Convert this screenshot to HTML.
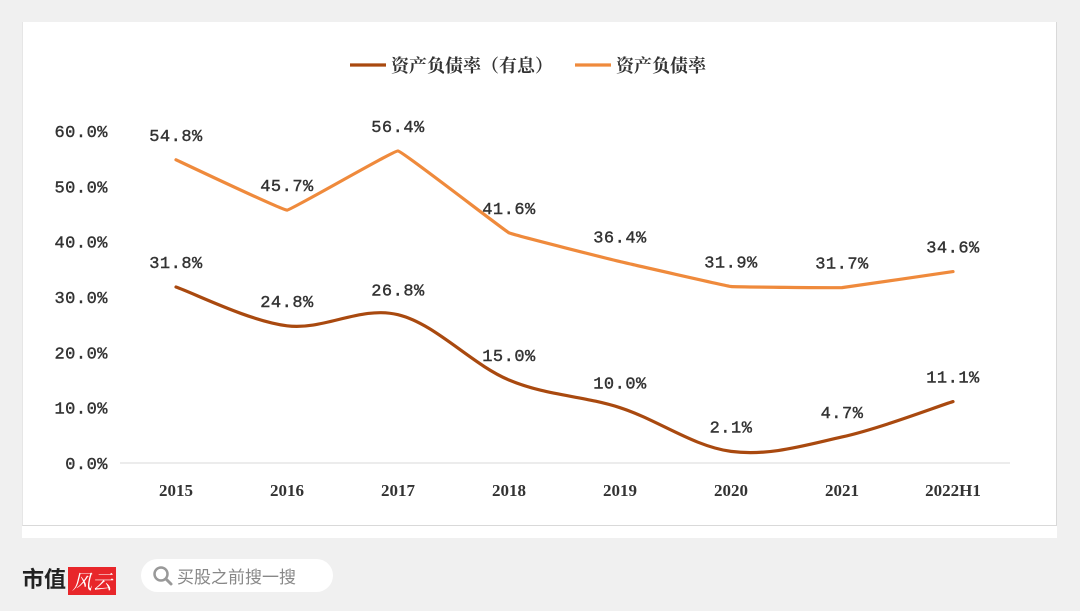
<!DOCTYPE html>
<html><head><meta charset="utf-8"><style>
body{margin:0;width:1080px;height:611px;background:#f0f0f0;overflow:hidden;font-family:"Liberation Serif","Noto Serif CJK SC",serif}
#card{position:absolute;left:22px;top:22px;width:1035px;height:516px;background:#fff}
#frame{position:absolute;left:22px;top:22px;width:1033px;height:503px;border:1px solid #d9d9d9;border-top:none;border-left:1px solid #e6e6e6}
svg{position:absolute;left:0;top:0}
#logo{position:absolute;left:22px;top:562px;font:bold 22px "Noto Sans CJK SC",sans-serif;color:#222}
#logo span{display:inline-block;background:#e8262a;color:#fff;font:italic 20px "Noto Serif CJK SC",serif;padding:0 4px;margin-left:2px;height:28px;line-height:28px;vertical-align:middle}
#search{position:absolute;left:141px;top:559px;width:192px;height:33px;border-radius:17px;background:#fff;font:17px "Noto Sans CJK SC",sans-serif;color:#888;line-height:33px}
</style></head><body>
<div id="card"></div>
<div id="frame"></div>
<svg id="chart" width="1080" height="611"></svg>
<div id="logo">市值<span>风云</span></div>
<div id="search"><svg width="30" height="33" style="position:relative;left:8px;top:0;vertical-align:top"><circle cx="12" cy="15" r="6.5" fill="none" stroke="#999" stroke-width="2.5"/><line x1="17" y1="20" x2="22" y2="25" stroke="#999" stroke-width="3" stroke-linecap="round"/></svg><span style="margin-left:6px">买股之前搜一搜</span></div>
<script>
const categories=["2015","2016","2017","2018","2019","2020","2021","2022H1"];
const debtInterest=[31.8,24.8,26.8,15.0,10.0,2.1,4.7,11.1];
const debtTotal=[54.8,45.7,56.4,41.6,36.4,31.9,31.7,34.6];
const yTicks=[0,10,20,30,40,50,60];
const NS="http://www.w3.org/2000/svg";
const svg=document.getElementById('chart');
const x=i=>176+i*111;
const y=v=>463-v*5.533;
function mk(t,a){const e=document.createElementNS(NS,t);for(const k in a)e.setAttribute(k,a[k]);svg.appendChild(e);return e;}
const base=mk('line',{x1:120,x2:1010,y1:463,y2:463,stroke:'#d9d9d9','stroke-width':1});


const lblStyle={'font-size':17,fill:'#333','font-family':'Liberation Mono,monospace','letter-spacing':'0.5','stroke':'#333','stroke-width':0.4};
yTicks.forEach(t=>{const e=mk('text',Object.assign({x:108,y:y(t)+6,'text-anchor':'end'},lblStyle));e.textContent=t.toFixed(1)+'%';

});
categories.forEach((c,i)=>{const e=mk('text',{x:x(i),y:496,'text-anchor':'middle','font-size':17,fill:'#333','font-weight':'bold'});e.textContent=c;

});
function path(vals,t){const p=vals.map((v,i)=>[x(i),y(v)]);let d=`M${p[0][0]},${p[0][1]}`;
for(let i=0;i<p.length-1;i++){const p0=p[i-1]||p[i],p1=p[i],p2=p[i+1],p3=p[i+2]||p2;
d+=` C${p1[0]+(p2[0]-p0[0])*t},${p1[1]+(p2[1]-p0[1])*t} ${p2[0]-(p3[0]-p1[0])*t},${p2[1]-(p3[1]-p1[1])*t} ${p2[0]},${p2[1]}`;}return d;}
function series(vals,color,name,t){const e=mk('path',{d:path(vals,t),fill:'none',stroke:color,'stroke-width':3.2,'stroke-linecap':'round','stroke-linejoin':'round'});


vals.forEach((v,i)=>{const tx=mk('text',Object.assign({x:x(i),y:y(v)-19,'text-anchor':'middle'},lblStyle));tx.textContent=v.toFixed(1)+'%';

});}
series(debtTotal,'#ef8a3c','debt-ratio',0.02);
series(debtInterest,'#a9490f','interest-debt-ratio',0.17);
[[350,'#a9490f','资产负债率（有息）'],[575,'#ef8a3c','资产负债率']].forEach(([lx,c,txt])=>{
const l=mk('line',{x1:lx,x2:lx+36,y1:65,y2:65,stroke:c,'stroke-width':3.2});


const t=mk('text',{x:lx+41,y:72,'font-size':18,fill:'#333','font-family':'Noto Serif CJK SC,serif','font-weight':'bold'});t.textContent=txt;

});
</script>
</body></html>
